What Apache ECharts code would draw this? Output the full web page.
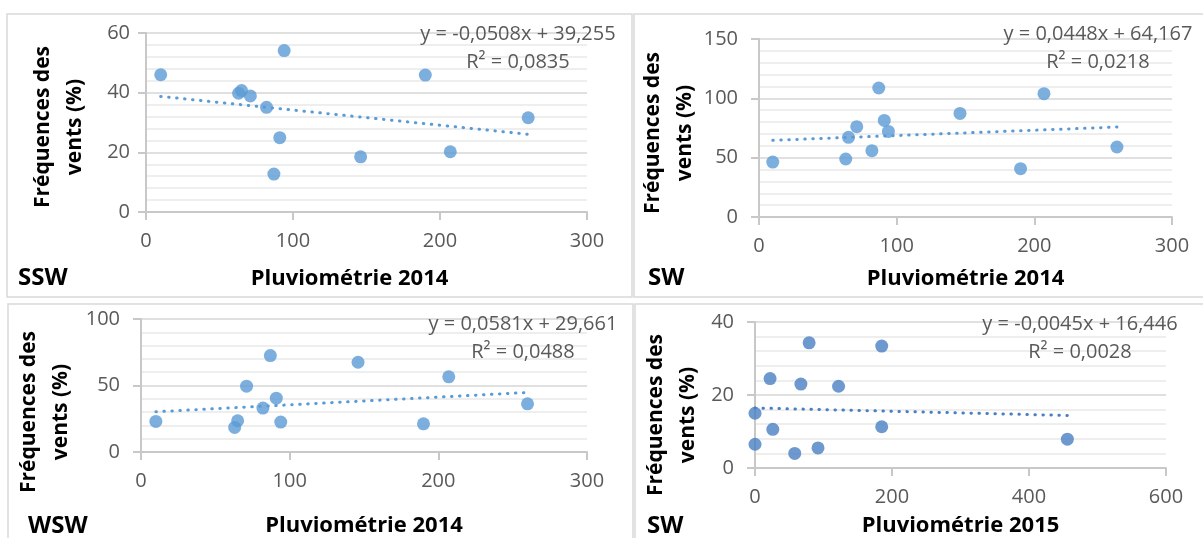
<!DOCTYPE html>
<html>
<head>
<meta charset="utf-8">
<title>Fréquences des vents / pluviométrie</title>
<script src="https://cdn.jsdelivr.net/npm/echarts@6/dist/echarts.min.js"></script>
<style>
  html, body { margin: 0; padding: 0; background: #fff; }
  #chart { width: 1203px; height: 538px; }
</style>
</head>
<body>
<div id="chart"></div>
<script>
// rainfall (x) per month
var pluvio2014 = [10, 63, 65, 71, 82, 87, 91, 94, 146, 190, 207, 260];
var pluvio2015 = [0, 0, 22, 26, 58, 67, 79, 92, 122, 185, 185, 456];

// wind frequencies (%) per panel
var freqSSW = [46, 39.8, 40.7, 38.9, 35.1, 12.7, 24.9, 54.1, 18.5, 45.9, 20.2, 31.6];
var freqSW14 = [46.3, 48.9, 67.1, 76.1, 55.9, 108.7, 81.4, 72.1, 87.3, 40.7, 103.9, 59.0];
var freqWSW = [23, 18.5, 23.5, 49.5, 33, 72.5, 40.5, 22.5, 67.5, 21.2, 56.5, 36.2];
var freqSW15 = [15.0, 6.5, 24.5, 10.6, 4.0, 23, 34.3, 5.5, 22.4, 33.4, 11.3, 7.9];

// labels
var panelLabels = ['SSW', 'SW', 'WSW', 'SW'];
var xTitles = ['Pluviométrie 2014', 'Pluviométrie 2014', 'Pluviométrie 2014', 'Pluviométrie 2015'];
var yTitle = 'Fréquences des\nvents (%)';

// axis ranges
var xMax = [300, 300, 300, 600];
var xStep = [100, 100, 100, 200];
var yMax = [60, 150, 100, 40];
var yStep = [20, 50, 50, 20];

// linear trend (as printed on the chart)
var slopes = [-0.0508, 0.0448, 0.0581, -0.0045];
var intercepts = [39.255, 64.167, 29.661, 16.446];
var r2 = [0.0835, 0.0218, 0.0488, 0.0028];

var panels = [
	{x: pluvio2014, y: freqSSW},
	{x: pluvio2014, y: freqSW14},
	{x: pluvio2014, y: freqWSW},
	{x: pluvio2015, y: freqSW15}
];

// layout (pixels)
var grids = [
	{left: 146, top: 33, width: 441, height: 179},
	{left: 759, top: 39, width: 413, height: 178},
	{left: 141, top: 319, width: 446, height: 133},
	{left: 755, top: 322, width: 411, height: 146}
];
var boxes = [[7, 14, 625, 283], [634, 14, 572, 283], [8, 304, 625, 240], [635, 304, 572, 240]];
var eqPos = [[518, 48], [1098, 48], [523, 338], [1080, 338]];
var yTitlePos = [[59, 127], [669, 133], [45, 412], [672, 415]];
var labelPos = [[18, 278], [648, 278], [28, 526], [647, 526]];
var xNameGap = [56, 51, 63, 47];
var xNamePad = [[0, 34, 0, 0], 0, 0, 0];
var yLabelMargin = [16, 21, 21, 21];
var dotColors = ['#5b9bd5', '#5b9bd5', '#5b9bd5', '#4a80c2'];

var FONT = "'Open Sans', sans-serif";

function fmt(v, d){
	return v.toFixed(d).replace('.', ',');
}

var option = {
	animation: false,
	backgroundColor: '#fff',
	grid: [], xAxis: [], yAxis: [], series: [], graphic: []
};

for (var i = 0; i < panels.length; i++) {
	var p = panels[i];
	option.grid.push(grids[i]);
	option.xAxis.push({
		type: 'value', gridIndex: i, min: 0, max: xMax[i], interval: xStep[i],
		name: xTitles[i], nameLocation: 'middle', nameGap: xNameGap[i],
		nameTextStyle: {fontFamily: FONT, fontSize: 22, fontWeight: 'bold', color: '#000', padding: xNamePad[i]},
		axisLine: {show: true, lineStyle: {color: '#c8c8c8', width: 2}},
		axisTick: {show: true, length: 8, lineStyle: {color: '#c8c8c8', width: 2}},
		axisLabel: {fontFamily: FONT, fontSize: 20, color: '#595959', margin: 19},
		splitLine: {show: false}
	});
	option.yAxis.push({
		type: 'value', gridIndex: i, min: 0, max: yMax[i], interval: yStep[i],
		axisLine: {show: true, lineStyle: {color: '#c8c8c8', width: 2}},
		axisTick: {show: true, length: 8, lineStyle: {color: '#c8c8c8', width: 2}},
		axisLabel: {fontFamily: FONT, fontSize: 20, color: '#595959', margin: yLabelMargin[i]},
		splitLine: {show: true, lineStyle: {color: '#d6d6d6', width: 1.5}},
		minorTick: {show: false, splitNumber: 5},
		minorSplitLine: {show: true, lineStyle: {color: '#e9e9e9', width: 1.5}}
	});

	var pts = [];
	for (var k = 0; k < p.x.length; k++) pts.push([p.x[k], p.y[k]]);
	option.series.push({
		type: 'scatter', xAxisIndex: i, yAxisIndex: i, data: pts,
		symbolSize: 13, itemStyle: {color: dotColors[i]}, z: 3
	});

	var x0 = Math.min.apply(null, p.x), x1 = Math.max.apply(null, p.x);
	option.series.push({
		type: 'line', xAxisIndex: i, yAxisIndex: i, silent: true, showSymbol: false,
		data: [[x0, slopes[i] * x0 + intercepts[i]], [x1, slopes[i] * x1 + intercepts[i]]],
		lineStyle: {color: dotColors[i], width: 3, type: [0.5, 7.5], cap: 'round'}, z: 2
	});

	// panel frame
	option.graphic.push({
		type: 'rect', silent: true,
		shape: {x: boxes[i][0], y: boxes[i][1], width: boxes[i][2], height: boxes[i][3]},
		style: {fill: 'none', stroke: '#d9d9d9', lineWidth: 1.5}
	});
	// trend equation
	option.graphic.push({
		type: 'text', x: eqPos[i][0], y: eqPos[i][1], z: 10,
		style: {
			text: 'y = ' + fmt(slopes[i], 4) + 'x + ' + fmt(intercepts[i], 3) + '\nR² = ' + fmt(r2[i], 4),
			fontFamily: FONT, fontSize: 20, fill: '#595959', lineHeight: 28,
			textAlign: 'center', textVerticalAlign: 'middle'
		}
	});
	// y title
	option.graphic.push({
		type: 'text', x: yTitlePos[i][0], y: yTitlePos[i][1], rotation: Math.PI / 2,
		style: {
			text: yTitle, fontFamily: FONT, fontSize: 21, fontWeight: 'bold', fill: '#000',
			lineHeight: 32, textAlign: 'center', textVerticalAlign: 'middle'
		}
	});
	// panel label
	option.graphic.push({
		type: 'text', x: labelPos[i][0], y: labelPos[i][1],
		style: {
			text: panelLabels[i], fontFamily: FONT, fontSize: 24, fontWeight: 'bold', fill: '#000',
			textAlign: 'left', textVerticalAlign: 'middle'
		}
	});
}

var myChart = echarts.init(document.getElementById('chart'));
myChart.setOption(option);
</script>
</body>
</html>
